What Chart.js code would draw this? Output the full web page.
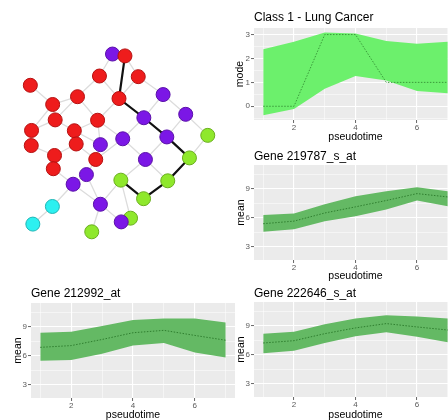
<!DOCTYPE html>
<html>
<head>
<meta charset="utf-8">
<title>Lung cancer pseudotime</title>
<script src="https://cdn.jsdelivr.net/npm/chart.js@4.4.1/dist/chart.umd.min.js"></script>
<style>
  html, body { margin: 0; padding: 0; background: #fff; }
  body { width: 448px; height: 420px; position: relative; overflow: hidden; }
  .box { position: absolute; overflow: hidden; }
  .box canvas { position: absolute; left: 0; top: 0; }
</style>
</head>
<body>
<div class="box" style="left:0;top:30px;width:230px;height:220px"><canvas id="net" width="230" height="220"></canvas></div>
<div class="box" style="left:230px;top:0;width:218px;height:145px"><canvas id="p1" width="240" height="145"></canvas></div>
<div class="box" style="left:230px;top:142px;width:218px;height:143px"><canvas id="p2" width="240" height="143"></canvas></div>
<div class="box" style="left:0;top:282px;width:240px;height:138px"><canvas id="p3" width="240" height="145"></canvas></div>
<div class="box" style="left:230px;top:282px;width:218px;height:138px"><canvas id="p4" width="240" height="145"></canvas></div>

<script>
// ---- data ----
const pseudotime = [1, 2, 3, 4, 5, 6, 7];
const xBreaks = [1, 2, 3, 4, 5, 6, 7];
const xLabels = [2, 4, 6];

const lungMode  = [0, 0, 3, 3, 1, 1, 1];
const lungUpper = [2.39, 2.7, 3.09, 3.04, 2.73, 2.62, 2.7];
const lungLower = [-0.38, -0.11, 0.73, 1.27, 1.08, 0.64, 0.54];
const modeBreaks = [-0.5, 0, 0.5, 1, 1.5, 2, 2.5, 3];
const modeLabels = [0, 1, 2, 3];

const g219787Mean  = [5.38, 5.65, 6.5, 7.14, 7.8, 8.52, 8.17];
const g219787Upper = [6.28, 6.45, 7.4, 8.24, 8.76, 9.17, 8.76];
const g219787Lower = [4.55, 4.8, 5.65, 6.17, 6.86, 7.8, 7.2];

const g212992Mean  = [6.88, 7.06, 7.7, 8.4, 8.65, 8.12, 7.62];
const g212992Upper = [8.4, 8.5, 9.1, 9.74, 9.88, 9.88, 9.46];
const g212992Lower = [5.47, 5.57, 6.2, 7.06, 7.34, 6.35, 5.82];

const g222646Mean  = [7.23, 7.47, 8.2, 8.8, 9.25, 8.9, 8.58];
const g222646Upper = [8.19, 8.4, 9.18, 9.78, 10.13, 9.99, 9.78];
const g222646Lower = [6.17, 6.42, 7.23, 7.94, 8.36, 7.87, 7.3];

const meanBreaks = [3, 4.5, 6, 7.5, 9, 10.5];
const meanLabels = [3, 6, 9];

// network: layout coordinates and class of each node
const nodeX = [112.3, 125.7, 98.3, 140, 24, 74.7, 119.3, 166.7, 48, 146, 191, 50.7, 96.3, 25.3, 71.3, 214.7, 170.7, 123.3, 73.3, 99.3,
               25, 50, 195, 147.7, 94.3, 48.7, 84.3, 121.3, 171.7, 70, 145.7, 47.7, 99.3, 131.7, 121.7, 26.7, 90];
const nodeY = [47.3, 49.3, 71, 71.7, 81, 93.3, 95.3, 91, 101.7, 116, 112.3, 118.3, 118.7, 129.7, 130, 135, 136.7, 138.7, 144.3, 145,
               146, 156.7, 159.3, 161, 161, 171, 177.3, 183.3, 184, 187.7, 203.3, 211.7, 209.3, 224.3, 228.3, 230.7, 239];
const nodeClass = ["P","R","R","R","R","R","R","P","R","P","P","R","R","R","R","G","P","P","R","P",
                   "R","R","G","P","R","R","P","G","G","P","G","C","P","G","P","C","G"];
const greyEdges = [[0,2],[0,1],[1,3],[2,5],[2,6],[3,6],[3,7],[4,8],[5,8],[5,12],[5,11],[6,12],[7,9],[7,10],
                   [8,11],[8,13],[11,14],[11,13],[12,14],[12,17],[12,19],[9,17],[10,16],[10,15],[13,20],[14,18],
                   [14,19],[18,21],[18,24],[19,24],[17,23],[17,24],[16,23],[15,22],[20,21],[21,25],[24,26],
                   [23,27],[23,28],[25,29],[26,29],[26,32],[27,32],[29,31],[31,35],[32,34],[32,36],[33,34],[27,33],[29,32]];
const pathNodes = [1, 6, 9, 16, 22, 28, 30, 27];

// ---- styles ----
const FONT = "'Liberation Sans', Arial, sans-serif";
const TICK = "#5a5a5a";
const NODE_FILL = { R: "#ee1c1c", P: "#7b17e6", G: "#8fe82c", C: "#2cf0f0" };
const NODE_EDGE = { R: "#b51010", P: "#5a10a8", G: "#6aae1e", C: "#20b5b5" };

const pts = ys => pseudotime.map((x, i) => ({ x, y: ys[i] }));
const isMajor = (v, labels) => labels.some(l => Math.abs(l - v) < 1e-6);

const panelBg = {
  id: "panelBg",
  beforeDraw(chart) {
    const a = chart.chartArea, c = chart.ctx;
    c.save();
    c.fillStyle = "#ebebeb";
    c.fillRect(a.left, a.top, a.right - a.left, a.bottom - a.top);
    c.restore();
  }
};

function axisGrid(labels) {
  return {
    color: "#ffffff",
    lineWidth: c => (c.tick && isMajor(c.tick.value, labels)) ? 1.1 : 0.5,
    tickLength: 3,
    tickColor: c => (c.tick && isMajor(c.tick.value, labels)) ? "#666" : "rgba(0,0,0,0)",
    tickWidth: 1
  };
}

// L = where the panel sits inside its canvas
function ribbonChart(id, L, title, yTitle, mid, upper, lower, fillColor, lineColor, yRange, yBreaks, yLabels) {
  const cv = document.getElementById(id);
  const W = cv.width, H = cv.height;
  new Chart(cv, {
    type: "line",
    data: {
      datasets: [
        { data: pts(mid), fill: false, borderColor: lineColor, borderWidth: 1, borderDash: [1.5, 1.5], pointRadius: 0 },
        { data: pts(upper), fill: "+1", backgroundColor: fillColor, borderColor: "transparent", borderWidth: 0, pointRadius: 0 },
        { data: pts(lower), fill: false, borderColor: "transparent", borderWidth: 0, pointRadius: 0 }
      ]
    },
    options: {
      responsive: false, animation: false, events: [],
      layout: { padding: { left: 0, top: 0, bottom: 0, right: W - L.r } },
      plugins: {
        legend: { display: false },
        tooltip: { enabled: false },
        title: {
          display: true, text: title, align: "start", fullSize: false, color: "#000",
          font: { family: FONT, size: 12, weight: "normal" },
          padding: { top: L.titleY - 7.2, bottom: L.t - L.titleY - 7.2 }
        }
      },
      scales: {
        x: {
          type: "linear", min: 0.7, max: 7.3,
          afterBuildTicks: s => { s.ticks = xBreaks.map(v => ({ value: v })); },
          afterFit: s => { s.height = H - L.b; },
          ticks: { autoSkip: false, maxRotation: 0, padding: 0, color: TICK, font: { family: FONT, size: 8 },
                   callback: v => isMajor(v, xLabels) ? String(v) : "" },
          grid: axisGrid(xLabels),
          border: { display: false },
          title: { display: true, text: "pseudotime", color: "#000", font: { family: FONT, size: 10.5 },
                   padding: { top: 0, bottom: (H - L.xTitleY) - 6.3 } }
        },
        y: {
          type: "linear", min: yRange[0], max: yRange[1],
          afterBuildTicks: s => { s.ticks = yBreaks.map(v => ({ value: v })); },
          afterFit: s => { s.width = L.l; },
          ticks: { autoSkip: false, padding: 1, color: TICK, font: { family: FONT, size: 8 },
                   callback: v => isMajor(v, yLabels) ? String(v) : "" },
          grid: axisGrid(yLabels),
          border: { display: false },
          title: { display: true, text: yTitle, color: "#000", font: { family: FONT, size: 10.5 },
                   padding: { top: L.yTitleX - 6.3, bottom: 0 } }
        }
      }
    },
    plugins: [panelBg]
  });
}

const GENE_FILL = "rgba(100,185,100,1)";
const GENE_LINE = "#2f7f2f";
const MEAN_RANGE = [1.6, 11.5];

ribbonChart("p1", { l: 24, r: 227, t: 28, b: 120, titleY: 17.5, yTitleX: 10.5, xTitleY: 136.7 },
  "Class 1 - Lung Cancer", "mode", lungMode, lungUpper, lungLower,
  "#6cf06c", "#3a9a3a", [-0.575, 3.275], modeBreaks, modeLabels);

ribbonChart("p2", { l: 24, r: 227, t: 23, b: 118, titleY: 14.7, yTitleX: 11.5, xTitleY: 134 },
  "Gene 219787_s_at", "mean", g219787Mean, g219787Upper, g219787Lower,
  GENE_FILL, GENE_LINE, MEAN_RANGE, meanBreaks, meanLabels);

ribbonChart("p3", { l: 31, r: 235, t: 21, b: 116, titleY: 12, yTitleX: 18, xTitleY: 133 },
  "Gene 212992_at", "mean", g212992Mean, g212992Upper, g212992Lower,
  GENE_FILL, GENE_LINE, MEAN_RANGE, meanBreaks, meanLabels);

ribbonChart("p4", { l: 24, r: 227, t: 20, b: 115, titleY: 11.5, yTitleX: 10.7, xTitleY: 133 },
  "Gene 222646_s_at", "mean", g222646Mean, g222646Upper, g222646Lower,
  GENE_FILL, GENE_LINE, MEAN_RANGE, meanBreaks, meanLabels);

// ---- network ----
const nodePt = i => ({ x: nodeX[i], y: nodeY[i] });
new Chart(document.getElementById("net"), {
  type: "scatter",
  data: {
    datasets: [
      { data: nodeX.map((x, i) => nodePt(i)), pointRadius: 7, pointBorderWidth: 1,
        pointBackgroundColor: nodeClass.map(k => NODE_FILL[k]), pointBorderColor: nodeClass.map(k => NODE_EDGE[k]) },
      { data: pathNodes.map(nodePt), showLine: true, borderColor: "#111", borderWidth: 2.2, pointRadius: 0 },
      { data: greyEdges.flatMap(([a, b]) => [nodePt(a), nodePt(b), { x: null, y: null }]),
        showLine: true, spanGaps: false, borderColor: "#dcdcdc", borderWidth: 1.3, pointRadius: 0 }
    ]
  },
  options: {
    responsive: false, animation: false, events: [],
    layout: { padding: 0 },
    plugins: { legend: { display: false }, tooltip: { enabled: false } },
    scales: {
      x: { display: false, min: 0, max: 230 },
      y: { display: false, min: 30, max: 250, reverse: true }
    }
  }
});
</script>
</body>
</html>
